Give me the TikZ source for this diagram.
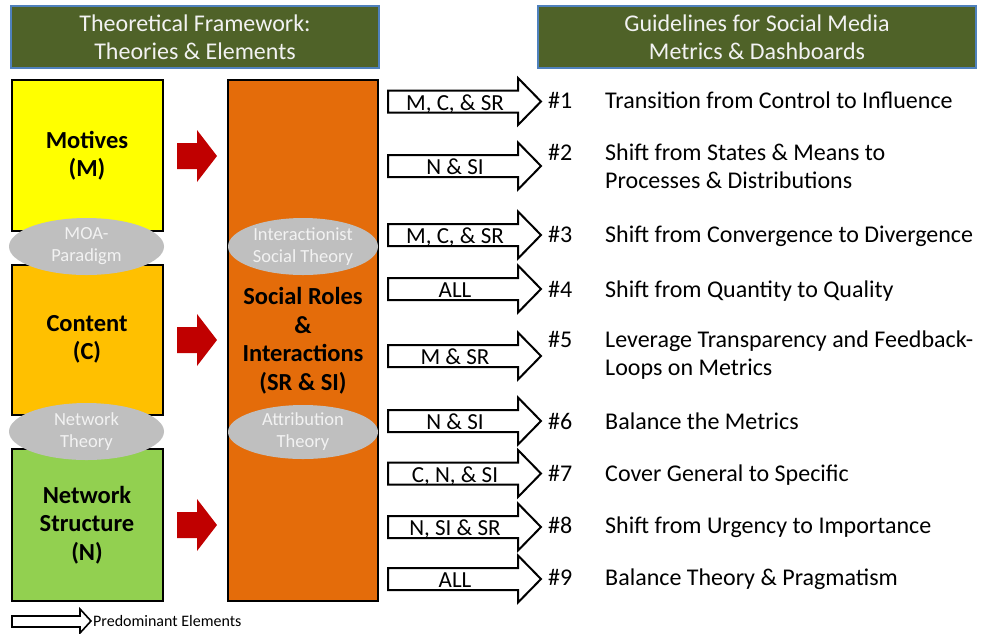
\documentclass[tikz,border=0pt]{standalone}
\usepackage{fontspec}
\setmainfont{Carlito}
\usetikzlibrary{shapes.geometric}
\definecolor{hdrgreen}{HTML}{4F6228}
\definecolor{hdrblue}{HTML}{4F81BD}
\definecolor{myyellow}{HTML}{FFFF00}
\definecolor{myamber}{HTML}{FFC000}
\definecolor{mygreen}{HTML}{92D050}
\definecolor{myorange}{HTML}{E46C0A}
\definecolor{mygrey}{HTML}{BFBFBF}
\definecolor{myred}{HTML}{C00000}
\definecolor{offwhite}{HTML}{F2F2F2}
\newcommand\wharrow[4]{% name, left x, centre y, label
  \draw[warrow] ({#2},{#3-11}) -- ++(130,0) -- ++(0,-12.5) -- ++(23,23.5)
     -- ++(-23,23.5) -- ++(0,-12.5) -- ++(-130,0) -- cycle;
  \node[wlabel] (#1) at ({#2+67},{#3+8.5}) {#4};}
\newcommand\redarr[2]{% left x, centre y
  \fill[myred] ({#1},{#2-13}) -- ++(20,0) -- ++(0,-13) -- ++(20,26)
     -- ++(-20,26) -- ++(0,-13) -- ++(-20,0) -- cycle;}
\begin{document}
\begin{tikzpicture}[x=1pt,y=-1pt,
 hdr/.style={draw=hdrblue, line width=1.2pt, fill=hdrgreen, text=offwhite, minimum width=368pt, minimum height=62pt, align=center, font=\fontsize{24}{28}\selectfont, inner sep=0},
 elem/.style={draw=black, line width=2pt, minimum width=151pt, align=center, font=\fontsize{24.5}{28.5}\selectfont\bfseries, inner sep=0},
 theory/.style={ellipse, fill=mygrey, minimum width=155pt, minimum height=57pt, inner sep=0, align=center, text=offwhite, font=\fontsize{18.5}{22}\selectfont},
 warrow/.style={draw=black, line width=2pt, fill=white, line join=miter},
 wlabel/.style={font=\fontsize{23}{24}\selectfont, inner sep=0, anchor=base},
 num/.style={font=\fontsize{24}{28}\selectfont, inner sep=0, anchor=base west},
 guide/.style={font=\fontsize{24}{28}\selectfont, inner sep=0, anchor=base west, align=left}]

\useasboundingbox (0,0) rectangle (981,633);

% headers
\node[hdr] (hleft) at (195,37) {Theoretical Framework:\\Theories \& Elements};
\node[hdr, minimum width=438pt] (hright) at (757,37) {Guidelines for Social Media\\Metrics \& Dashboards};

% element boxes
\node[elem, fill=myyellow, minimum height=151pt] (mot) at (87,155.5) {Motives\\(M)};
\node[elem, fill=myamber, minimum height=150pt] (con) at (87,339.5) {Content\\(C)};
\node[elem, fill=mygreen, minimum height=152pt] (net) at (87,525) {Network\\Structure\\(N)};
\node[elem, fill=myorange, minimum width=150pt, minimum height=521pt] (sr) at (303,340.5) {Social Roles\\\&\\Interactions\\(SR \& SI)};

% theory ellipses
\node[theory] (moa) at (86.5,246.5) {MOA-\\Paradigm};
\node[theory] (nt) at (86.5,431.5) {Network\\Theory};
\node[theory, minimum width=150pt] (ist) at (303,246.5) {Interactionist\\Social Theory};
\node[theory, minimum width=150pt, minimum height=54pt] (at) at (303,432) {Attribution\\Theory};

% red arrows
\redarr{177}{156}
\redarr{177}{340}
\redarr{177}{525}

% white arrows
\wharrow{a1}{388}{101.5}{M, C, \& SR}
\wharrow{a2}{388}{166}{N \& SI}
\wharrow{a3}{388}{235}{M, C, \& SR}
\wharrow{a4}{388}{289}{ALL}
\wharrow{a5}{388}{356}{M \& SR}
\wharrow{a6}{388}{421}{N \& SI}
\wharrow{a7}{388}{473.5}{C, N, \& SI}
\wharrow{a8}{388}{527}{N, SI \& SR}
\wharrow{a9}{388}{579}{ALL}

% numbers
\node[num] (n1) at (548,108) {\#1};
\node[num] (n2) at (548,160) {\#2};
\node[num] (n3) at (548,242) {\#3};
\node[num] (n4) at (548,297) {\#4};
\node[num] (n5) at (548,347) {\#5};
\node[num] (n6) at (548,429) {\#6};
\node[num] (n7) at (548,481) {\#7};
\node[num] (n8) at (548,533) {\#8};
\node[num] (n9) at (548,585) {\#9};

% guidelines
\node[guide] (g1) at (605,108) {Transition from Control to Influence};
\node[guide] (g2) at (605,188) {Shift from States \& Means to\\Processes \& Distributions};
\node[guide] (g3) at (605,242) {Shift from Convergence to Divergence};
\node[guide] (g4) at (605,297) {Shift from Quantity to Quality};
\node[guide] (g5) at (605,375) {Leverage Transparency and Feedback-\\Loops on Metrics};
\node[guide] (g6) at (605,429) {Balance the Metrics};
\node[guide] (g7) at (605,481) {Cover General to Specific};
\node[guide] (g8) at (605,533) {Shift from Urgency to Importance};
\node[guide] (g9) at (605,585) {Balance Theory \& Pragmatism};

% legend
\draw[warrow, line width=1.6pt] (12,616) -- (80,616) -- (80,609) -- (91,621) -- (80,633) -- (80,627) -- (12,627) -- cycle;
\node[font=\fontsize{16}{18}\selectfont, inner sep=0, anchor=base west] (leg) at (93,626) {Predominant Elements};
\end{tikzpicture}
\end{document}
